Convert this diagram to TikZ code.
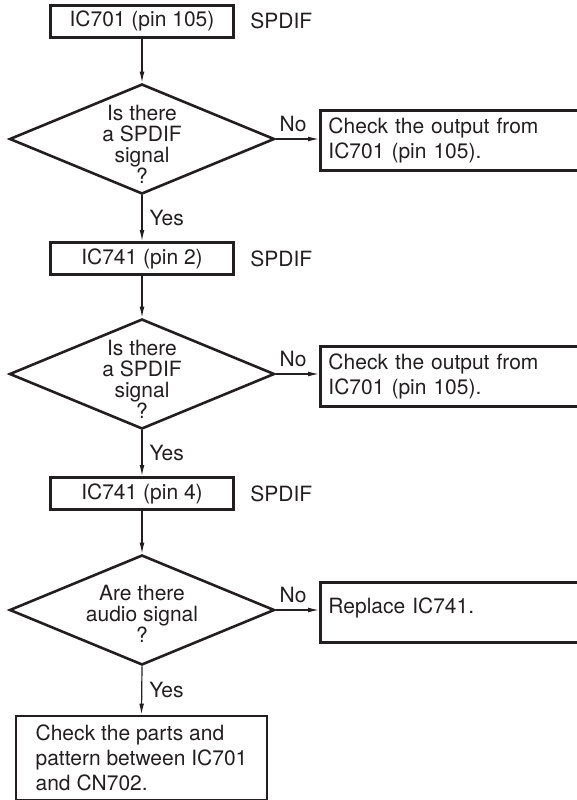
\documentclass[tikz,border=0pt]{standalone}
\usepackage{fontspec}
\setmainfont{TeX Gyre Heros}
\usepackage{tikz}
\usetikzlibrary{
  arrows.meta,
  positioning,
  shapes.geometric
}
\definecolor{inkclr}{RGB}{35, 31, 32}
\tikzset{
  % Pin boxes
  pinbox/.style    = {draw=inkclr, line width=1.5pt, minimum width=91.5pt, minimum height=16pt, inner sep=0pt},
  % Result boxes (running off the right edge)
  notebox/.style   = {draw=inkclr, line width=1.5pt, text width=150pt, align=left, inner xsep=4pt, minimum height=30pt, anchor=west},
  endbox/.style    = {draw=inkclr, line width=1.4pt, align=left, minimum width=125.5pt, minimum height=42pt},
  % Decisions
  askshape/.style  = {diamond, draw=inkclr, line width=1.3pt, minimum width=132.5pt, minimum height=55pt, inner sep=0pt},
  asktext/.style   = {align=center, inner sep=0pt, font=\fontsize{10.5}{10.5}\selectfont},
  % Connectors
  flowarrow/.style = {-{Latex[length=5.5pt,width=2.4pt]}, line width=0.6pt, draw=inkclr},
  % Labels
  lab/.style       = {inner sep=1pt},
  yesno/.style     = {inner sep=3.5pt},
}
\begin{document}
\begin{tikzpicture}[x=0.5pt, y=-0.5pt, color=inkclr, font=\fontsize{10.5}{12.5}\selectfont]
  \path[use as bounding box, clip] (0,0) rectangle (577,800);
  % Step 1: IC701
  \node[pinbox] (pin1) at (142,21) {IC701 (pin 105)};
  \node[lab, right=6.5pt of pin1] (sig1) {SPDIF};
  \node[askshape] (ask1) at (142,139) {};
  \node[asktext] (ask1t) at (142,144) {Is there\\a SPDIF\\signal\\?};
  \node[notebox] (chk1) at (319,140) {Check the output from\\IC701 (pin 105).};
  % Step 2: IC741 pin 2
  \node[pinbox] (pin2) at (142,258.5) {IC741 (pin 2)};
  \node[lab, right=6.5pt of pin2] (sig2) {SPDIF};
  \node[askshape] (ask2) at (142,374) {};
  \node[asktext] (ask2t) at (142,379) {Is there\\a SPDIF\\signal\\?};
  \node[notebox] (chk2) at (319,376.5) {Check the output from\\IC701 (pin 105).};
  % Step 3: IC741 pin 4
  \node[pinbox] (pin3) at (142,493.5) {IC741 (pin 4)};
  \node[lab, right=6.5pt of pin3] (sig3) {SPDIF};
  \node[askshape] (ask3) at (142,610) {};
  \node[asktext] (ask3t) at (142,614) {Are there\\audio signal\\?};
  \node[notebox, text depth=6.5pt] (rep3) at (319,612) {Replace IC741.};
  % Last step
  \node[endbox] (fin) at (141.5,758) {Check the parts and\\pattern between IC701\\and CN702.};
  % Connectors
  \draw[flowarrow] (pin1.south) -- (ask1.north);
  \draw[flowarrow] (ask1.east) -- node[yesno, above, pos=0.4] (no1) {No} (ask1.east -| chk1.west);
  \draw[flowarrow] (ask1.south) -- node[yesno, right] (yes1) {Yes} (pin2.north);
  \draw[flowarrow] (pin2.south) -- (ask2.north);
  \draw[flowarrow] (ask2.east) -- node[yesno, above, pos=0.4] (no2) {No} (ask2.east -| chk2.west);
  \draw[flowarrow] (ask2.south) -- node[yesno, right] (yes2) {Yes} (pin3.north);
  \draw[flowarrow] (pin3.south) -- (ask3.north);
  \draw[flowarrow] (ask3.east) -- node[yesno, above, pos=0.4] (no3) {No} (ask3.east -| rep3.west);
  \draw[flowarrow] (ask3.south) -- node[yesno, right] (yes3) {Yes} (fin.north);
\end{tikzpicture}
\end{document}
